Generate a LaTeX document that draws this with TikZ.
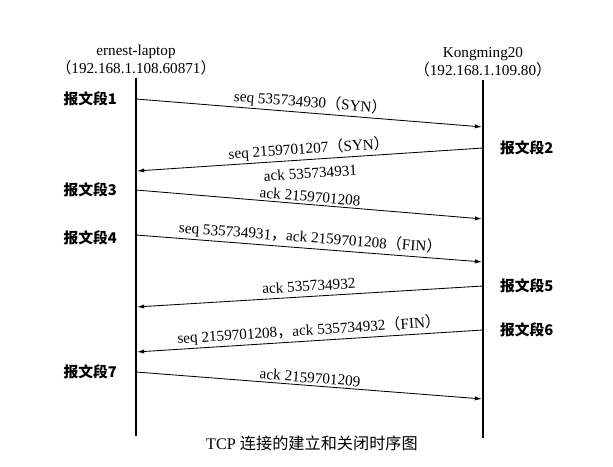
\documentclass[tikz,border=0pt]{standalone}
\usepackage{fontspec}
\setmainfont{Liberation Serif}
\newfontfamily\cjk{Noto Sans CJK SC}
\usetikzlibrary{positioning,arrows.meta}
\newcommand{\zh}[1]{{\cjk #1}}

\begin{document}
\begin{tikzpicture}[
  x=0.025cm,y=-0.025cm,
  >={Latex[length=5pt,width=3pt]},
  font=\fontsize{10.8}{13}\selectfont,
  life/.style={draw,line width=1.5pt},
  msgline/.style={draw,line width=0.6pt,->,shorten >=0.8pt},
  msg/.style={inner sep=1.5pt,sloped},
  host/.style={align=center,inner sep=1pt},
  seg/.style={inner sep=0pt,font=\cjk\bfseries\fontsize{10.5}{13}\selectfont}]

\useasboundingbox (0,0) rectangle (613,467);

% --- lifelines: left client, right server ---
\coordinate (A0) at (136,78);
\coordinate (A1) at (136,436);
\coordinate (B0) at (483,80);
\coordinate (B1) at (483,438);
\draw[life] (A0) -- (A1);
\draw[life] (B0) -- (B1);
\node[host,above=1pt of A0] (hostA) {ernest-laptop\\\zh{（}192.168.1.108.60871\zh{）}};
\node[host,above=1pt of B0] (hostB) {Kongming20\\\zh{（}192.168.1.109.80\zh{）}};

% --- segment ends (a = left lifeline, b = right lifeline) ---
\coordinate (a1) at (136,99);  \coordinate (b1) at (483,127);
\coordinate (b2) at (483,148); \coordinate (a2) at (136,171);
\coordinate (a3) at (136,190); \coordinate (b3) at (483,219);
\coordinate (a4) at (136,235); \coordinate (b4) at (483,262);
\coordinate (b5) at (483,286); \coordinate (a5) at (136,307);
\coordinate (b6) at (483,330); \coordinate (a6) at (136,352);
\coordinate (a7) at (136,372); \coordinate (b7) at (483,399);

% --- handshake ---
\draw[msgline] (a1) -- node[msg,above] (m1) {seq 535734930\zh{（}SYN\zh{）}} (b1);
\draw[msgline] (b2) -- node[msg,above] (m2) {seq 2159701207\zh{（}SYN\zh{）}}
                       node[msg,below=4pt] (m2b) {ack 535734931} (a2);
\draw[msgline] (a3) -- node[msg,above] (m3) {ack 2159701208} (b3);

% --- teardown ---
\draw[msgline] (a4) -- node[msg,above] (m4) {seq 535734931\zh{，}ack 2159701208\zh{（}FIN\zh{）}} (b4);
\draw[msgline] (b5) -- node[msg,above=2pt] (m5) {ack 535734932} (a5);
\draw[msgline] (b6) -- node[msg,above] (m6) {seq 2159701208\zh{，}ack 535734932\zh{（}FIN\zh{）}} (a6);
\draw[msgline] (a7) -- node[msg,above] (m7) {ack 2159701209} (b7);

% --- segment numbers beside the lifelines ---
\node[seg,left=0.47cm of a1] (s1) {报文段1};
\node[seg,right=0.42cm of b2] (s2) {报文段2};
\node[seg,left=0.47cm of a3] (s3) {报文段3};
\node[seg,left=0.47cm of a4,yshift=-2pt] (s4) {报文段4};
\node[seg,right=0.42cm of b5] (s5) {报文段5};
\node[seg,right=0.42cm of b6] (s6) {报文段6};
\node[seg,left=0.47cm of a7] (s7) {报文段7};

% --- caption ---
\node[font=\fontsize{11.5}{13}\selectfont] (cap) at (312,443) {TCP \zh{连接的建立和关闭时序图}};

\end{tikzpicture}
\end{document}
